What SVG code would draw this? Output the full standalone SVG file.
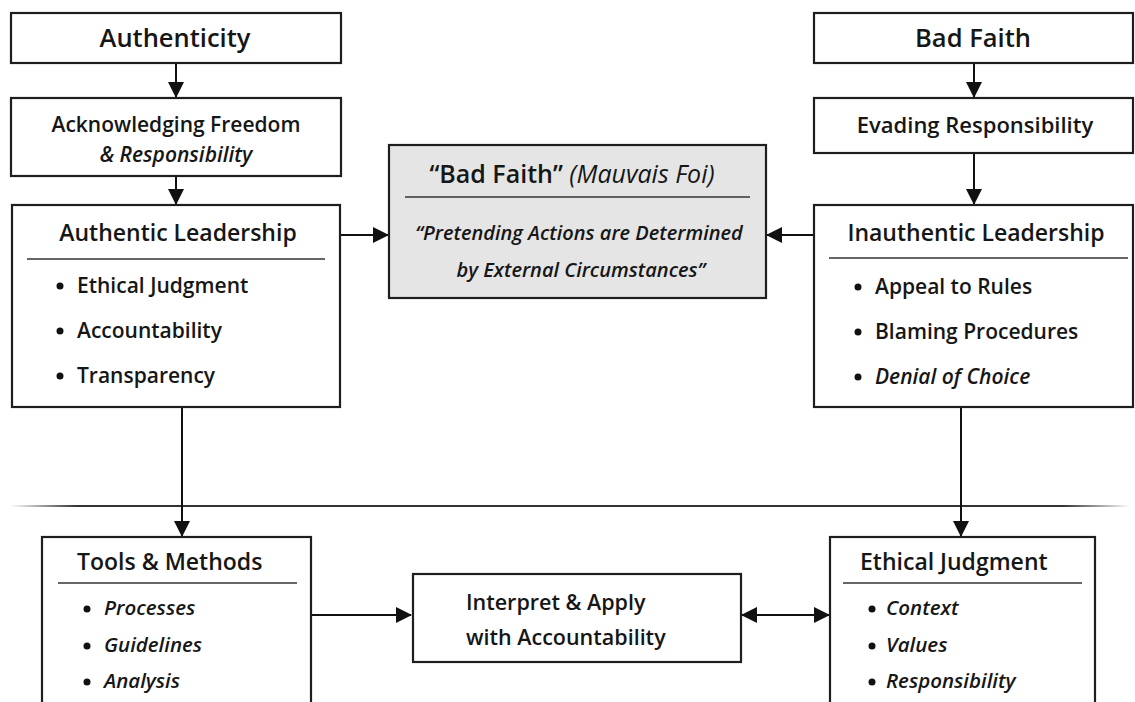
<svg xmlns="http://www.w3.org/2000/svg" width="1135" height="702" viewBox="0 0 1135 702">
<style>
.box{fill:#fff;stroke:#1e1e1e;stroke-width:2.2}
.gray{fill:#e5e5e5;stroke:#1e1e1e;stroke-width:2.2}
.div{stroke:#333;stroke-width:1.5}
.t{font-family:"Open Sans","Noto Sans",sans-serif;fill:#161616;font-weight:600}
.h{font-size:23px}
.hb{font-size:25.5px}
.m{font-size:21px}
.q{font-size:20px}
.s{font-size:20.5px}
.i{font-style:italic}
.c{text-anchor:middle}
.ln{stroke:#111;stroke-width:2;fill:none}
</style>
<defs>
<marker id="ah" viewBox="0 0 16 16" refX="15" refY="8" markerWidth="16" markerHeight="16" markerUnits="userSpaceOnUse" orient="auto-start-reverse">
<path d="M0,0 L16,8 L0,16 z" fill="#111"/>
</marker>
<linearGradient id="fade" x1="0" y1="0" x2="1" y2="0">
<stop offset="0" stop-color="#333" stop-opacity="0"/>
<stop offset="0.06" stop-color="#333" stop-opacity="1"/>
<stop offset="0.94" stop-color="#333" stop-opacity="1"/>
<stop offset="1" stop-color="#333" stop-opacity="0"/>
</linearGradient>
</defs>
<rect width="1135" height="702" fill="#fff"/>
<rect x="10" y="505" width="1120" height="2" fill="url(#fade)"/>
<g id="connectors">
<line class="ln" x1="176" y1="63" x2="176" y2="97" marker-end="url(#ah)"/>
<line class="ln" x1="176" y1="176" x2="176" y2="204" marker-end="url(#ah)"/>
<line class="ln" x1="974" y1="63" x2="974" y2="97" marker-end="url(#ah)"/>
<line class="ln" x1="974" y1="153" x2="974" y2="204" marker-end="url(#ah)"/>
<line class="ln" x1="340" y1="235" x2="388" y2="235" marker-end="url(#ah)"/>
<line class="ln" x1="814" y1="235" x2="767" y2="235" marker-end="url(#ah)"/>
<line class="ln" x1="182" y1="407" x2="182" y2="536" marker-end="url(#ah)"/>
<line class="ln" x1="961" y1="407" x2="961" y2="536" marker-end="url(#ah)"/>
<line class="ln" x1="311" y1="615" x2="411" y2="615" marker-end="url(#ah)"/>
<line class="ln" x1="742" y1="615" x2="829" y2="615" marker-start="url(#ah)" marker-end="url(#ah)"/>
</g>
<g id="authenticity">
<rect class="box" x="11" y="13" width="330" height="50"/>
<text class="t hb c" x="175" y="47">Authenticity</text>
</g>
<g id="acknowledging">
<rect class="box" x="11" y="98" width="330" height="78"/>
<text class="t m c" x="176" y="132">Acknowledging Freedom</text>
<text class="t m c i" x="176" y="162">&amp; Responsibility</text>
</g>
<g id="authentic-leadership">
<rect class="box" x="12" y="205" width="328" height="202"/>
<text class="t h c" x="178" y="241">Authentic Leadership</text>
<line class="div" x1="27" y1="259" x2="325" y2="259"/>
<circle cx="60" cy="286" r="3.5" fill="#111"/>
<text class="t m" x="77" y="293">Ethical Judgment</text>
<circle cx="60" cy="331" r="3.5" fill="#111"/>
<text class="t m" x="77" y="338">Accountability</text>
<circle cx="60" cy="376" r="3.5" fill="#111"/>
<text class="t m" x="77" y="383">Transparency</text>
</g>
<g id="bad-faith-center">
<rect class="gray" x="389" y="145" width="377" height="153"/>
<text class="t c" font-size="25" x="572" y="183">“Bad Faith” <tspan class="i" font-weight="500">(Mauvais Foi)</tspan></text>
<line class="div" x1="405" y1="197" x2="750" y2="197"/>
<text class="t q c i" x="579" y="240">“Pretending Actions are Determined</text>
<text class="t q c i" x="581" y="277">by External Circumstances”</text>
</g>
<g id="bad-faith">
<rect class="box" x="814" y="13" width="319" height="50"/>
<text class="t hb c" x="973" y="47">Bad Faith</text>
</g>
<g id="evading">
<rect class="box" x="814" y="98" width="319" height="55"/>
<text class="t c" font-size="22" x="975" y="133">Evading Responsibility</text>
</g>
<g id="inauthentic-leadership">
<rect class="box" x="814" y="205" width="319" height="202"/>
<text class="t h c" x="976" y="241">Inauthentic Leadership</text>
<line class="div" x1="829" y1="258" x2="1128" y2="258"/>
<circle cx="858" cy="287" r="3.5" fill="#111"/>
<text class="t m" x="875" y="294">Appeal to Rules</text>
<circle cx="858" cy="332" r="3.5" fill="#111"/>
<text class="t m" x="875" y="339">Blaming Procedures</text>
<circle cx="858" cy="377" r="3.5" fill="#111"/>
<text class="t m i" x="875" y="384">Denial of Choice</text>
</g>
<g id="tools-methods">
<rect class="box" x="42" y="537" width="269" height="180"/>
<text class="t h" x="77" y="570">Tools &amp; Methods</text>
<line class="div" x1="58" y1="583" x2="297" y2="583"/>
<circle cx="87" cy="609" r="3.5" fill="#111"/>
<text class="t s i" x="104" y="615">Processes</text>
<circle cx="87" cy="646" r="3.5" fill="#111"/>
<text class="t s i" x="104" y="652">Guidelines</text>
<circle cx="87" cy="682" r="3.5" fill="#111"/>
<text class="t s i" x="104" y="688">Analysis</text>
</g>
<g id="interpret">
<rect class="box" x="413" y="574" width="328" height="88"/>
<text class="t" font-size="21.5" x="466" y="610">Interpret &amp; Apply</text>
<text class="t" font-size="21.5" x="466" y="645">with Accountability</text>
</g>
<g id="ethical-judgment">
<rect class="box" x="830" y="537" width="265" height="180"/>
<text class="t h" x="860" y="570">Ethical Judgment</text>
<line class="div" x1="843" y1="583" x2="1082" y2="583"/>
<circle cx="872" cy="609" r="3.5" fill="#111"/>
<text class="t s i" x="886" y="615">Context</text>
<circle cx="872" cy="646" r="3.5" fill="#111"/>
<text class="t s i" x="886" y="652">Values</text>
<circle cx="872" cy="682" r="3.5" fill="#111"/>
<text class="t s i" x="886" y="688">Responsibility</text>
</g>
</svg>
